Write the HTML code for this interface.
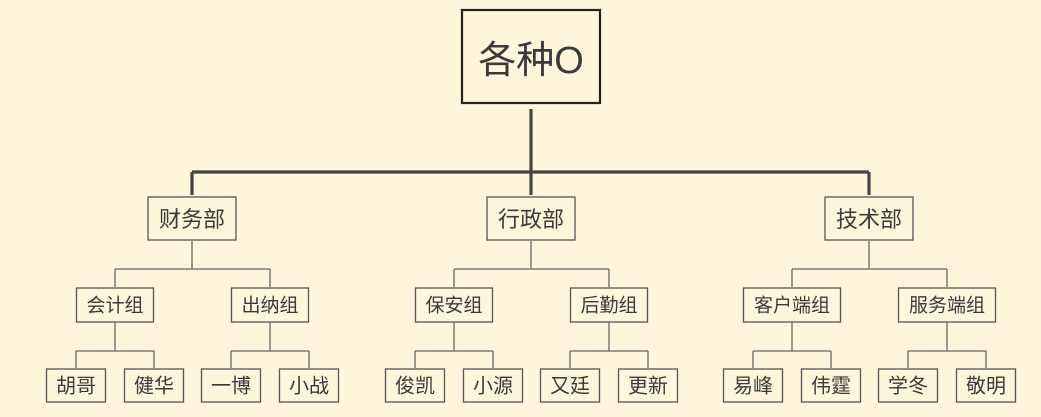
<!DOCTYPE html>
<html><head><meta charset="utf-8"><style>
html,body{margin:0;padding:0;background:#fef6da;}
svg{display:block}
text{font-family:"Liberation Sans","Noto Sans CJK SC",sans-serif;fill:#3a3a3a;text-anchor:middle;dominant-baseline:central}
</style></head><body>
<svg width="1041" height="417" viewBox="0 0 1041 417" xmlns="http://www.w3.org/2000/svg">
<rect width="1041" height="417" fill="#fef6da"/>
<rect x="462" y="10" width="138" height="93" fill="none" stroke="#222" stroke-width="2.2"/>
<text x="531" y="61" font-size="38">各种O</text>
<g stroke="#444" stroke-width="3.2" fill="none">
<path d="M531 109V195M192 172H869M192 172V195M869 172V195"/>
</g>
</svg>
<script>
const svg=document.querySelector('svg');
const NS='http://www.w3.org/2000/svg';
function el(t,a,txt){const e=document.createElementNS(NS,t);for(const k in a)e.setAttribute(k,a[k]);if(txt)e.textContent=txt;svg.appendChild(e);return e;}
function box(cx,y,w,h,label,fs){
  el('rect',{x:cx-w/2,y:y,width:w,height:h,fill:'none',stroke:'#555','stroke-width':1.3});
  el('text',{x:cx,y:y+h/2+1,'font-size':fs},label);
}
function line(d,sw){el('path',{d:d,stroke:'#666','stroke-width':sw||1.3,fill:'none'});}
const deps=[
 {c:192,n:'财务部',g:[['会计组',['胡哥','健华']],['出纳组',['一博','小战']]]},
 {c:531,n:'行政部',g:[['保安组',['俊凯','小源']],['后勤组',['又廷','更新']]]},
 {c:869,n:'技术部',g:[['客户端组',['易峰','伟霆']],['服务端组',['学冬','敬明']]]}
];
deps.forEach(d=>{
  box(d.c,197,88,43,d.n,22);
  const gc=[d.c-77,d.c+78];
  line(`M${d.c} 241V269M${gc[0]} 269H${gc[1]}M${gc[0]} 269V287M${gc[1]} 269V287`);
  d.g.forEach((g,i)=>{
    const c=gc[i];const w=g[0].length>3?97:77;
    box(c,288,w,34,g[0],19);
    const l=[c-39,c+39];
    line(`M${c} 322V351M${l[0]} 351H${l[1]}M${l[0]} 351V368M${l[1]} 351V368`);
    g[1].forEach((p,j)=>box(l[j],369,59,33,p,20));
  });
});
</script>
</body></html>
